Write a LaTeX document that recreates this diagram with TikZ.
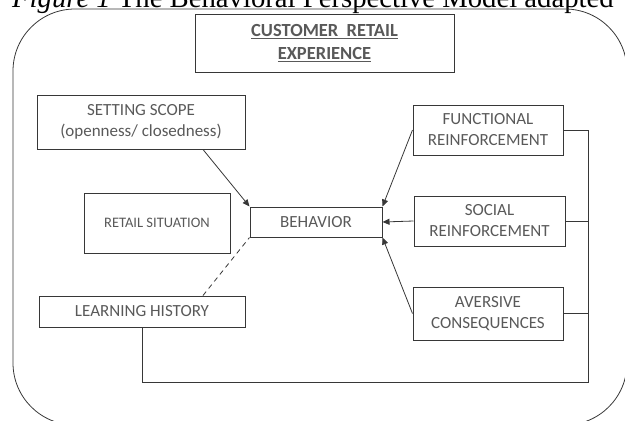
\documentclass[tikz,border=0pt]{standalone}
\usepackage{fontspec}
\setmainfont{Carlito}
\newfontfamily\capfont{Liberation Serif}
\usetikzlibrary{arrows.meta}
\definecolor{boxtext}{RGB}{89,89,89}
\definecolor{boxline}{RGB}{55,55,55}
\tikzset{bpmbox/.style={rectangle, draw=boxline, line width=1pt, text=boxtext, align=center, inner sep=0pt, font=\fontsize{17}{21}\selectfont},}
\tikzset{bpmarrow/.style={draw=boxline, line width=0.8pt, -{Triangle[length=7pt,width=6pt]}},}

\begin{document}
\begin{tikzpicture}[x=1pt, y=-1pt]
\clip (0,0) rectangle (625,421);
\node [anchor=base west, inner sep=0pt, font=\capfont\fontsize{28.7}{30}\selectfont] (caption) at (12,7) {\textit{Figure 1} The Behavioral Perspective Model adapted};
\draw [boxline, line width=0.8pt, rounded corners=62pt] (13,9) rectangle (627,425);
\node [bpmbox, minimum width=259pt, minimum height=58pt, font=\bfseries\fontsize{18.5}{23}\selectfont] (title) at (324.5,43) {\underline{CUSTOMER\ \ RETAIL}\\\underline{EXPERIENCE}};
\node [bpmbox, minimum width=208pt, minimum height=54pt] (scope) at (141,122) {SETTING SCOPE\\(openness/ closedness)};
\node [bpmbox, minimum width=146pt, minimum height=60pt, font=\fontsize{14.5}{16}\selectfont] (retail) at (157,223) {RETAIL SITUATION};
\node [bpmbox, minimum width=132pt, minimum height=30pt] (behav) at (316,222) {BEHAVIOR};
\node [bpmbox, minimum width=206pt, minimum height=31pt] (learn) at (142,311.5) {LEARNING HISTORY};
\node [bpmbox, minimum width=150pt, minimum height=50pt] (func) at (488,130) {FUNCTIONAL\\REINFORCEMENT};
\node [bpmbox, minimum width=151pt, minimum height=50pt] (social) at (489.5,221) {SOCIAL\\REINFORCEMENT};
\node [bpmbox, minimum width=150pt, minimum height=53pt] (avers) at (488,313.5) {AVERSIVE\\CONSEQUENCES};
\coordinate (fb) at (588,382);
% arrows into behavior
\draw [bpmarrow] ([xshift=62pt]scope.south) -- (behav.north west);
\draw [bpmarrow] (func.west) -- (behav.north east);
\draw [bpmarrow] (social.west) -- (behav.east);
\draw [bpmarrow] (avers.west) -- (behav.south east);
\draw [boxline, line width=0.8pt, dashed, dash pattern=on 5pt off 4pt] ([xshift=61pt]learn.north) -- (behav.south west);
% feedback loop
\draw [boxline, line width=0.8pt] (learn.south) -- (learn.south |- fb) -- (fb) -- (fb |- func.east) -- (func.east);
\draw [boxline, line width=0.8pt] (social.east) -- (social.east -| fb);
\draw [boxline, line width=0.8pt] (avers.east) -- (avers.east -| fb);
\end{tikzpicture}
\end{document}
